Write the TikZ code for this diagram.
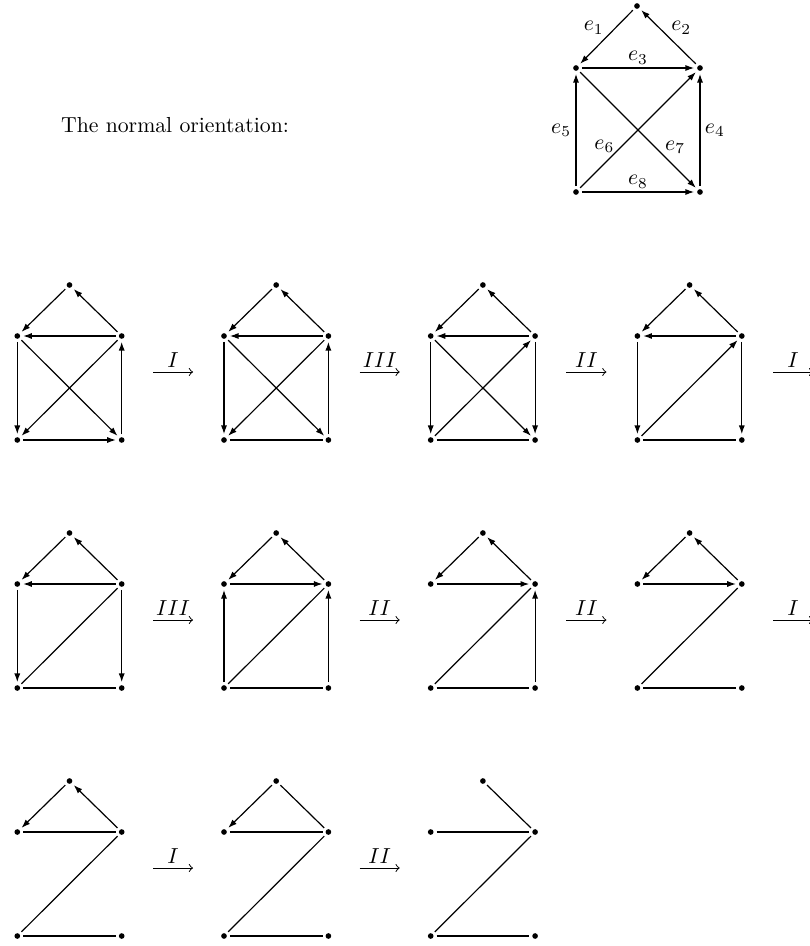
\documentclass[tikz,border=0pt]{standalone}
\usepackage{amsmath}
\usepackage{tikz}
\usetikzlibrary{arrows.meta}

\begin{document}
\begin{tikzpicture}[
    x=0.46pt, y=-0.46pt,
    every node/.style={font=\normalsize},
    vertex/.style={
        circle,
        fill=black,
        inner sep=0pt,
        minimum size=2.6pt,
        outer sep=1.4pt
    },
    oriented/.style={
        -{Latex[length=4pt, width=2.8pt]},
        line width=0.55pt
    },
    unoriented/.style={
        line width=0.55pt
    },
    move/.style={
        -to,
        line width=0.45pt
    }
]
\useasboundingbox (0,0) rectangle (810,946);

% the normal orientation
\node (normal) at (175,125) {The normal orientation:};

\node[vertex] (n-t) at (637,6) {};
\node[vertex] (n-a) at (576,68) {};
\node[vertex] (n-b) at (700,68) {};
\node[vertex] (n-c) at (576,192) {};
\node[vertex] (n-d) at (700,192) {};

\draw[oriented] (n-t) -- node[above left, inner sep=1pt] {$e_1$} (n-a);
\draw[oriented] (n-b) -- node[above right, inner sep=1pt] {$e_2$} (n-t);
\draw[oriented] (n-a) -- node[above, inner sep=1.5pt] {$e_3$} (n-b);
\draw[oriented] (n-d) -- node[right, inner sep=2pt] {$e_4$} (n-b);
\draw[oriented] (n-c) -- node[left, inner sep=2pt] {$e_5$} (n-a);
\draw[oriented] (n-c) -- node[pos=0.3, above left, inner sep=0pt] {$e_6$} (n-b);
\draw[oriented] (n-a) -- node[pos=0.72, above right, inner sep=0.5pt] {$e_7$} (n-d);
\draw[oriented] (n-c) -- node[above, inner sep=1.5pt] {$e_8$} (n-d);

% vertices of the small graphs
\foreach \r/\g/\x/\y in {1/1/17.3/336, 1/2/224/336, 1/3/430.7/336, 1/4/637.4/336,
                         2/1/17.3/584, 2/2/224/584, 2/3/430.7/584, 2/4/637.4/584,
                         3/1/17.3/832, 3/2/224/832, 3/3/430.7/832} {
    \node[vertex] (g\r\g-t) at (\x+52.2,\y-51) {};
    \node[vertex] (g\r\g-a) at (\x,\y) {};
    \node[vertex] (g\r\g-b) at (\x+104.4,\y) {};
    \node[vertex] (g\r\g-c) at (\x,\y+104) {};
    \node[vertex] (g\r\g-d) at (\x+104.4,\y+104) {};
}

% steps between the graphs
\foreach \r/\m/\lab in {1/1/I, 1/2/III, 1/3/II, 1/4/I,
                        2/1/III, 2/2/II, 2/3/II, 2/4/I,
                        3/1/I, 3/2/II} {
    \pgfmathsetmacro\mx{153+206.7*(\m-1)}
    \pgfmathsetmacro\my{372+248*(\r-1)}
    \coordinate (m\r\m-s) at (\mx,\my);
    \coordinate (m\r\m-e) at (\mx+40,\my);
    \draw[move] (m\r\m-s) -- node[above, inner sep=2pt] {$\lab$} (m\r\m-e);
}

% row 1
\draw[oriented] (g11-t) -- (g11-a);
\draw[oriented] (g11-b) -- (g11-t);
\draw[oriented] (g11-b) -- (g11-a);
\draw[oriented] (g11-a) -- (g11-c);
\draw[oriented] (g11-d) -- (g11-b);
\draw[oriented] (g11-b) -- (g11-c);
\draw[oriented] (g11-a) -- (g11-d);
\draw[oriented] (g11-c) -- (g11-d);

\draw[oriented] (g12-t) -- (g12-a);
\draw[oriented] (g12-b) -- (g12-t);
\draw[oriented] (g12-b) -- (g12-a);
\draw[oriented] (g12-a) -- (g12-c);
\draw[oriented] (g12-d) -- (g12-b);
\draw[oriented] (g12-b) -- (g12-c);
\draw[oriented] (g12-a) -- (g12-d);
\draw[unoriented] (g12-c) -- (g12-d);

\draw[oriented] (g13-t) -- (g13-a);
\draw[oriented] (g13-b) -- (g13-t);
\draw[oriented] (g13-b) -- (g13-a);
\draw[oriented] (g13-a) -- (g13-c);
\draw[oriented] (g13-b) -- (g13-d);
\draw[oriented] (g13-c) -- (g13-b);
\draw[oriented] (g13-a) -- (g13-d);
\draw[unoriented] (g13-c) -- (g13-d);

\draw[oriented] (g14-t) -- (g14-a);
\draw[oriented] (g14-b) -- (g14-t);
\draw[oriented] (g14-b) -- (g14-a);
\draw[oriented] (g14-a) -- (g14-c);
\draw[oriented] (g14-b) -- (g14-d);
\draw[oriented] (g14-c) -- (g14-b);
\draw[unoriented] (g14-c) -- (g14-d);

% row 2
\draw[oriented] (g21-t) -- (g21-a);
\draw[oriented] (g21-b) -- (g21-t);
\draw[oriented] (g21-b) -- (g21-a);
\draw[oriented] (g21-a) -- (g21-c);
\draw[oriented] (g21-b) -- (g21-d);
\draw[unoriented] (g21-c) -- (g21-b);
\draw[unoriented] (g21-c) -- (g21-d);

\draw[oriented] (g22-t) -- (g22-a);
\draw[oriented] (g22-b) -- (g22-t);
\draw[oriented] (g22-a) -- (g22-b);
\draw[oriented] (g22-c) -- (g22-a);
\draw[oriented] (g22-d) -- (g22-b);
\draw[unoriented] (g22-c) -- (g22-b);
\draw[unoriented] (g22-c) -- (g22-d);

\draw[oriented] (g23-t) -- (g23-a);
\draw[oriented] (g23-b) -- (g23-t);
\draw[oriented] (g23-a) -- (g23-b);
\draw[oriented] (g23-d) -- (g23-b);
\draw[unoriented] (g23-c) -- (g23-b);
\draw[unoriented] (g23-c) -- (g23-d);

\draw[oriented] (g24-t) -- (g24-a);
\draw[oriented] (g24-b) -- (g24-t);
\draw[oriented] (g24-a) -- (g24-b);
\draw[unoriented] (g24-c) -- (g24-b);
\draw[unoriented] (g24-c) -- (g24-d);

% row 3
\draw[oriented] (g31-t) -- (g31-a);
\draw[oriented] (g31-b) -- (g31-t);
\draw[unoriented] (g31-a) -- (g31-b);
\draw[unoriented] (g31-c) -- (g31-b);
\draw[unoriented] (g31-c) -- (g31-d);

\draw[oriented] (g32-t) -- (g32-a);
\draw[unoriented] (g32-t) -- (g32-b);
\draw[unoriented] (g32-a) -- (g32-b);
\draw[unoriented] (g32-c) -- (g32-b);
\draw[unoriented] (g32-c) -- (g32-d);

\draw[unoriented] (g33-t) -- (g33-b);
\draw[unoriented] (g33-a) -- (g33-b);
\draw[unoriented] (g33-c) -- (g33-b);
\draw[unoriented] (g33-c) -- (g33-d);

\end{tikzpicture}
\end{document}
